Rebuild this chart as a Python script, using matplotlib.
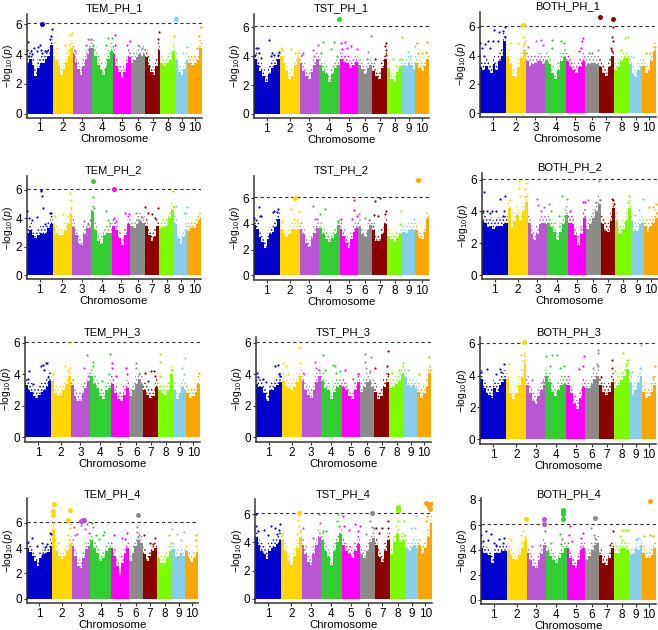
import matplotlib
matplotlib.use('Agg')
import matplotlib.pyplot as plt
import numpy as np

plt.rcParams['font.family'] = ['Liberation Sans', 'DejaVu Sans']
plt.rcParams['mathtext.fontset'] = 'custom'
plt.rcParams['mathtext.rm'] = 'Liberation Sans'
plt.rcParams['mathtext.it'] = 'Liberation Sans:italic'
plt.rcParams['hatch.linewidth'] = 0.7

W, H = 658, 630

# chromosome lengths (Mb, read from the widths of the coloured blocks)
chrom_len = [304, 234, 222, 246, 214, 168, 172, 179, 152, 160]
chrom_col = ['#0000CD', '#FFD700', '#BA55D3', '#32CD32', '#FF00FF',
             '#8B8B8B', '#8B0000', '#7CFC00', '#87CEEB', '#FFA500']
threshold = 6.07

# height of the solid mass of points along each chromosome
env_tem1 = [[3.4,3.7,3.3,2.5,3.1,3.4,3.4,3.7,3.9,4.6],[3.9,3.6,3.2,2.6,3.0,3.5,3.9,4.4],[4.0,3.5,3.0,2.6,3.2,3.7,4.0,4.4],
            [4.4,3.9,3.3,2.9,2.6,3.1,3.7,4.2],[4.0,3.2,2.8,2.4,2.8,3.4,3.8],[3.4,3.6,3.8,4.0,3.9,4.0],[3.8,3.3,2.8,2.6,3.2,4.3],
            [3.4,3.2,3.4,3.6,4.2],[3.6,2.8,2.6,3.0,3.6],[3.4,3.3,3.4,3.6,4.4]]
env_tst1 = [[3.8,3.4,3.0,2.6,2.2,2.8,3.2,3.4,3.8],[4.0,3.5,3.0,2.4,2.6,3.4,3.9],[3.5,3.0,2.6,2.4,2.9,3.4,3.8],
            [3.4,3.0,2.8,2.2,2.8,3.2,3.4],[3.8,3.6,3.5,3.2,3.4,3.6],[3.4,3.1,2.8,3.2,3.4],[3.0,2.6,2.4,3.2,3.8],
            [3.2,2.4,2.2,2.9,3.3],[3.4,3.3,3.6,3.4,3.1],[3.5,3.2,3.0,3.3,3.8]]
env_both1 = [[3.2,3.0,3.3,3.0,2.8,3.4,3.0,3.6,4.0,5.0],[4.0,3.4,2.6,2.5,3.2,3.8,4.4],[3.6,3.3,3.4,3.5,3.6,3.6,3.4],
             [3.7,3.4,2.8,2.4,3.0,3.6,3.9],[3.6,3.2,3.0,2.8,3.2,3.6],[3.3,3.4,3.5,3.5,3.4],[3.2,2.8,2.6,3.2,4.0],
             [3.0,3.2,3.6,3.8,3.8],[3.4,2.7,2.5,3.0,3.3],[3.3,2.8,2.9,3.6,4.3]]
env_tem2 = [[3.0,3.2,2.8,2.6,2.8,3.0,2.9,3.0,3.3,3.6],[3.6,3.0,2.8,2.8,3.1,3.6,4.3],[3.4,2.8,2.2,2.1,2.9,3.3,3.3],
            [4.5,3.2,2.4,2.2,2.8,3.0,3.0],[3.5,3.2,2.6,2.1,2.8,3.6],[3.5,3.3,3.6,3.8,3.7],[3.5,2.8,2.4,2.7,3.5],
            [3.3,3.4,3.5,4.0,4.6],[3.6,2.6,2.2,2.7,3.2],[3.1,3.3,3.3,3.6,3.9]]
env_tst2 = [[3.9,3.6,3.0,2.6,2.1,2.8,3.2,3.4,3.8,4.4],[3.6,3.2,3.0,3.2,3.6,3.5,3.6],[3.6,3.2,2.5,2.2,2.9,3.3,3.7],
            [3.7,3.2,2.8,2.6,2.9,3.2,3.9],[3.6,3.1,2.5,2.1,2.8,3.4,3.7],[3.8,3.2,3.0,3.5,3.9],[3.5,2.7,2.7,3.2,4.0],
            [3.1,2.8,2.6,2.9,3.2],[3.4,3.3,3.5,3.6,3.5],[3.5,2.9,2.8,3.4,4.4]]
env_both2 = [[3.4,3.3,3.0,3.1,2.9,3.0,3.1,3.1,3.2,3.3],[4.2,3.0,3.4,3.8,3.4,4.0,4.6],[3.3,2.6,2.2,2.6,3.2,3.3,3.2],
             [3.3,3.0,2.7,2.2,2.7,3.2,3.8],[3.3,3.2,2.5,1.9,2.6,3.6],[2.9,3.2,3.6,4.0,4.5],[3.2,2.8,2.7,3.4,4.2],
             [3.4,2.6,2.9,3.4,4.2],[3.4,2.8,2.8,3.2,3.3],[3.1,2.7,3.0,3.3,3.6]]
env_tem3 = [[3.3,3.0,2.9,2.6,2.5,2.7,2.9,3.0,3.2,3.6],[3.6,2.8,2.6,2.7,3.0,3.4,3.9],[3.3,2.6,2.3,2.3,2.8,3.1,3.6],
            [3.9,3.4,3.1,2.6,2.4,3.0,3.1],[3.4,2.8,2.4,2.3,2.7,3.1],[2.6,3.0,3.4,3.7,3.4],[3.0,2.7,2.5,2.6,3.2],
            [3.0,2.8,2.7,3.0,4.0],[3.0,2.4,2.8,3.2,3.0],[2.8,2.5,2.6,2.9,3.4]]
env_tst3 = [[3.4,3.2,3.2,2.8,2.3,3.0,3.0,3.2,3.3,3.5],[3.6,3.3,3.1,3.0,3.2,3.5,3.9],[3.6,3.0,2.7,2.5,3.0,3.5,3.9],
            [3.6,3.1,3.0,2.4,2.9,3.2,3.3],[3.2,3.0,2.6,2.4,3.0,3.5],[2.9,3.2,3.5,3.6,3.2],[2.9,2.4,2.6,3.2,3.5],
            [3.1,3.2,3.4,3.6,4.0],[3.8,3.3,3.2,3.3,3.1],[2.9,2.5,2.8,3.2,4.1]]
env_both3 = [[3.8,3.2,2.9,2.8,2.6,3.2,3.0,3.4,3.6,3.8],[3.8,2.9,2.5,2.9,3.4,3.9,4.8],[3.4,2.9,2.4,2.2,2.7,3.1,3.4],
             [4.0,3.6,3.0,2.7,3.1,3.4,3.5],[3.4,2.9,2.2,1.9,2.6,3.3],[3.2,3.2,3.5,3.8,4.0],[3.4,3.0,2.8,3.0,3.6],
             [3.2,3.4,3.7,4.0,4.4],[3.6,2.8,3.1,3.6,4.0],[3.0,2.6,2.7,3.0,3.4]]
env_tem4 = [[4.0,3.7,3.4,3.0,2.6,3.2,3.5,3.6,3.7,4.2],[5.5,3.8,3.4,3.1,3.4,3.8,4.4],[4.2,3.4,2.6,2.4,3.2,3.9,4.2],
            [4.6,4.0,3.6,3.0,3.2,3.8,4.0],[4.0,3.4,2.6,1.9,2.8,3.6,4.0],[3.0,3.6,4.2,4.6,4.4],[3.5,3.0,3.4,3.8,4.0],
            [3.2,2.8,2.8,3.2,3.8],[3.9,3.3,3.4,3.6,3.4],[3.8,3.2,2.9,3.2,3.7]]
env_tst4 = [[4.4,3.8,3.4,3.2,2.8,3.4,3.6,3.7,3.9,4.2],[4.2,3.4,2.7,2.4,3.0,3.6,4.4],[3.8,3.2,2.6,2.4,3.2,3.8,4.4],
            [4.2,3.4,3.0,2.4,3.4,4.0,4.6],[3.8,3.4,3.2,2.9,3.4,3.9],[3.2,2.9,3.4,4.0,4.3],[3.8,3.0,2.6,3.4,4.2],
            [3.2,4.0,4.6,4.0,4.2],[3.6,3.4,3.7,3.8,3.6],[3.8,3.2,3.6,4.4,5.4]]
env_both4 = [[4.2,3.8,3.7,3.6,3.0,3.8,3.8,3.8,3.9,3.9],[4.0,3.6,3.3,3.2,3.6,4.2,4.8],[3.8,3.2,2.7,2.6,3.2,3.7,4.4],
             [3.9,3.5,3.2,3.0,3.4,3.8,4.2],[4.2,3.4,2.8,2.6,3.2,4.0,4.2],[3.2,3.5,4.0,4.4,4.6],[3.6,3.0,2.8,3.4,4.2],
             [3.8,3.8,4.2,4.2,4.0],[3.6,3.7,4.2,4.0,4.4],[3.8,3.4,3.4,3.6,4.2]]

# loose SNPs above the mass: per chromosome, (fraction along chromosome, -log10 p)
top_tem1 = [[(.03,4.3),(.05,4.8),(.1,3.9),(.15,4.2),(.2,4.0),(.3,4.4),(.4,4.2),(.45,4.5),(.5,4.6),(.55,4.3),(.6,4.1),(.7,4.2),(.8,4.2),(.9,5.0),(.95,5.2),(.97,5.7)],
            [(.1,4.8),(.2,4.4),(.6,4.6),(.8,4.7),(.85,5.3),(.95,5.4)],[(.1,4.2),(.7,4.6),(.8,5.0),(.95,5.0)],
            [(.05,4.6),(.7,4.6),(.8,5.1),(.95,5.1)],[(.1,4.6),(.15,5.3),(.8,4.6),(.95,4.9)],[(.5,4.6),(.8,4.4)],
            [(.9,5.5),(.85,5.0)],[(.9,5.2)],[(.9,4.5),(.6,4.1)],[(.9,5.8),(.8,5.2),(.6,4.4)]]
top_tst1 = [[(.05,4.1),(.1,4.6),(.15,4.6),(.2,4.2),(.28,3.9),(.6,5.1),(.65,4.0),(.7,4.2),(.8,4.1),(.92,4.1),(.97,4.3)],
            [(.05,4.6),(.1,4.4),(.55,4.5),(.75,4.2),(.9,4.2)],[(.1,4.1),(.2,4.2),(.7,4.4),(.75,4.0),(.95,4.8)],
            [(.1,4.2),(.2,5.0),(.6,4.5),(.75,5.0),(.85,4.0)],[(.05,4.9),(.1,4.5),(.3,5.0),(.4,4.6),(.6,4.7),(.95,4.5)],
            [(.7,4.3),(.9,5.4),(.6,3.8)],[(.9,4.9),(.85,4.7),(.9,4.4),(.95,4.1),(.2,3.8)],[(.4,3.8),(.9,3.8),(.98,5.3)],
            [(.4,4.3),(.6,4.0),(.95,4.7)],[(.1,4.9),(.2,4.2),(.5,4.2),(.85,5.0),(.8,4.3)]]
top_both1 = [[(.03,4.9),(.1,4.5),(.15,4.0),(.2,4.8),(.3,5.0),(.4,4.5),(.5,5.0),(.55,5.8),(.7,5.0),(.75,5.6),(.9,5.7),(.95,5.3),(.97,6.0)],
             [(.2,4.9),(.6,4.9),(.85,5.3),(.9,4.8),(.95,5.0)],[(.1,4.6),(.55,5.0),(.8,5.05),(.9,4.7)],
             [(.35,5.1),(.35,4.5),(.75,5.0),(.9,4.9)],[(.7,4.3),(.8,4.5),(.85,5.0),(.9,5.2)],[(.3,4.2),(.5,4.2),(.95,4.4)],
             [(.8,4.5),(.85,5.3),(.9,4.3),(.92,5.95),(.95,5.0)],[(.5,4.4),(.75,5.2),(.9,5.3)],[(.3,3.9)],[(.3,4.2),(.6,4.2),(.9,4.6)]]
top_tem2 = [[(.02,4.5),(.1,4.0),(.2,3.9),(.4,4.1),(.55,5.9),(.57,6.0),(.58,5.6),(.65,4.7),(.7,3.6),(.9,4.4),(.95,4.4)],
            [(.1,4.2),(.55,4.3),(.9,5.8),(.93,5.3),(.95,4.7)],[(.6,3.8),(.85,3.6),(.95,3.9)],
            [(.1,5.5),(.15,4.7),(.7,4.5),(.8,3.9),(.9,3.7)],[(.1,4.0),(.2,3.8),(.7,4.4),(.9,4.3)],[(.4,4.4),(.5,3.9),(.8,4.1)],
            [(.0,4.8),(.2,4.4),(.5,4.3),(.7,4.0),(.9,4.7)],[(.9,5.9),(.95,4.8)],[(.1,4.9),(.7,4.4),(.9,4.4),(.95,4.8)],[(.95,4.0)]]
top_tst2 = [[(.03,4.5),(.1,4.3),(.2,5.3),(.25,4.6),(.3,4.6),(.75,4.9),(.8,5.0),(.9,4.9),(.95,5.2)],
            [(.1,4.2),(.55,5.2),(.7,4.4),(.85,4.3),(.95,5.0)],[(.7,5.4),(.8,4.4),(.9,4.4)],[(.05,4.8),(.3,5.2),(.9,4.2)],
            [(.05,4.4),(.7,4.4),(.8,5.1),(.8,5.9),(.95,4.6)],[(.1,4.8),(.5,4.5),(.8,4.3)],
            [(.1,4.7),(.2,5.8),(.4,4.6),(.5,6.0),(.85,4.8),(.9,5.0)],[(.85,4.0),(.9,5.0)],[(.9,4.4)],[(.95,4.5)]]
top_both2 = [[(.05,4.0),(.1,5.2),(.2,4.0),(.3,3.9),(.4,4.0),(.55,4.0),(.7,4.8),(.8,3.7),(.85,4.0),(.9,5.0)],
             [(.1,4.7),(.55,5.9),(.57,5.5),(.6,5.0),(.85,4.9),(.88,5.4),(.9,5.8),(.95,5.0)],[(.5,4.8),(.55,4.4),(.7,4.0),(.85,4.3)],
             [(.1,4.5),(.2,4.0),(.6,3.7),(.7,5.0),(.95,4.8)],[(.1,4.0),(.8,4.6),(.95,4.6)],[(.1,4.7),(.7,4.6),(.9,5.9),(.95,4.7)],
             [(.75,4.8),(.85,4.7),(.9,4.5)],[(.85,4.6),(.9,5.0)],[(.3,3.8),(.6,4.1),(.95,4.8)],[(.4,4.3),(.7,4.3),(.9,4.5),(.95,3.9)]]
top_tem3 = [[(.1,3.7),(.15,4.2),(.3,3.4),(.6,4.5),(.7,4.6),(.75,4.3),(.8,4.7),(.85,4.7),(.9,3.8)],
            [(.1,4.0),(.7,4.5),(.85,4.2),(.9,6.0),(.95,4.4)],[(.7,4.4),(.85,5.2),(.95,3.9)],
            [(.15,4.8),(.15,4.5),(.6,3.6),(.9,4.0),(.95,5.3)],[(.05,4.7),(.05,4.4),(.3,3.9),(.85,4.4),(.9,4.0)],[(.5,4.7),(.5,4.4),(.7,4.0)],
            [(.1,4.1),(.3,3.6),(.5,4.2),(.7,4.2),(.8,3.9)],[(.1,5.3),(.15,4.8),(.15,3.9),(.9,4.3)],[(.7,4.4),(.8,4.0),(.9,5.0)],[(.9,4.1)]]
top_tst3 = [[(.05,4.1),(.1,3.8),(.3,3.7),(.4,3.5),(.75,4.5),(.85,4.6),(.9,4.0),(.95,3.9)],
            [(.05,4.7),(.2,4.5),(.3,4.0),(.85,5.7),(.9,4.7)],[(.1,4.0),(.7,4.8),(.75,4.4),(.9,4.3)],
            [(.1,5.2),(.2,4.3),(.6,4.6),(.7,4.5),(.75,4.1),(.9,4.2)],[(.2,4.3),(.6,3.7),(.9,4.0)],
            [(.35,5.3),(.35,4.8),(.4,4.4),(.7,4.2),(.8,5.1)],[(.05,4.4),(.85,4.5),(.9,4.0),(.95,5.5)],[(.2,4.1),(.65,4.3),(.9,4.7)],
            [(.3,4.3)],[(.1,4.0),(.85,5.1),(.95,4.3)]]
top_both3 = [[(.02,4.2),(.25,4.4),(.6,4.1),(.75,4.4),(.8,4.2),(.9,4.7)],[(.15,4.7),(.75,5.3),(.85,4.9),(.9,5.4),(.95,5.0)],
             [(.3,3.7),(.85,3.6)],[(.05,5.2),(.2,4.6),(.3,5.3),(.55,5.3),(.7,4.5),(.9,4.6)],[(.7,4.4),(.9,4.6),(.95,5.2)],
             [(.6,4.5),(.85,4.7),(.93,5.4),(.95,5.6),(.95,4.6)],[(.1,3.9),(.9,5.0),(.9,4.5)],[(.1,4.3),(.6,5.4),(.8,4.7),(.9,5.0)],
             [(.2,4.2),(.8,4.5),(.9,5.9)],[(.8,3.9),(.9,4.6)]]
top_tem4 = [[(.05,4.5),(.2,4.8),(.4,4.2),(.6,4.4),(.7,4.1),(.8,4.3),(.9,5.2),(.95,5.1)],
            [(.05,6.0),(.1,5.5),(.15,4.6),(.3,4.4),(.8,5.0),(.85,4.6),(.9,5.6),(.95,5.9)],
            [(.1,5.7),(.2,5.0),(.3,5.1),(.5,5.8),(.7,5.5),(.8,5.9),(.95,5.2)],[(.1,6.0),(.15,5.7),(.3,5.0),(.4,4.7),(.6,5.0),(.65,5.3)],
            [(.2,5.0),(.6,4.8),(.8,4.7),(.9,5.2)],[(.6,5.7),(.6,5.3),(.65,4.9),(.75,5.0)],[(.05,5.0),(.5,4.4),(.7,4.3),(.85,4.8)],
            [(.8,5.0),(.9,4.4)],[(.0,5.5),(.4,5.1),(.7,4.6),(.9,5.3)],[(.85,5.0),(.85,4.6)]]
top_tst4 = [[(.03,6.0),(.05,5.2),(.1,4.8),(.35,4.9),(.5,4.5),(.6,5.2),(.75,5.0),(.85,4.6),(.9,4.9),(.95,5.3)],
            [(.05,4.6),(.8,4.6),(.85,5.6),(.9,5.2),(.95,4.8)],[(.1,5.0),(.6,4.3),(.9,6.0),(.95,5.4)],
            [(.1,4.8),(.25,4.8),(.75,5.5),(.8,6.0),(.85,5.2)],[(.05,5.9),(.1,5.2),(.4,4.9),(.7,5.3),(.85,4.8),(.95,5.2)],
            [(.4,4.6),(.65,5.5),(.8,5.1),(.9,5.0)],[(.1,5.0),(.3,4.7),(.5,5.0),(.85,5.0),(.9,5.5)],[(.55,5.5),(.9,5.5),(.95,4.5)],
            [(.4,5.0),(.7,5.0),(.8,5.9)],[(.55,5.5),(.6,5.9)]]
top_both4 = [[(.03,5.2),(.1,4.7),(.2,5.5),(.3,4.8),(.4,5.3),(.5,4.6),(.6,4.4),(.7,4.9),(.85,4.6),(.9,5.0)],
             [(.1,5.0),(.2,4.8),(.7,5.2),(.75,4.6),(.8,5.5),(.9,5.0)],[(.3,4.3),(.7,4.4),(.9,6.0),(.95,5.5)],[(.25,4.6),(.7,5.3),(.75,4.5),(.8,4.9)],
             [(.15,5.2),(.2,5.9),(.3,4.7),(.8,5.0),(.9,5.4)],[(.45,5.8),(.6,5.2),(.7,5.0)],[(.7,4.4),(.9,5.5)],
             [(.4,5.1),(.5,5.6),(.55,4.8),(.7,5.6),(.9,5.6)],[(.5,4.8),(.6,4.9),(.7,5.0)],[(.1,5.1),(.55,5.2),(.75,5.1)]]

# significant SNPs: (chromosome, fraction along chromosome, -log10 p)
hit_tem1 = [(1,.58,6.05),(9,.03,6.35)]
hit_tst1 = [(4,.97,6.6)]
hit_both1 = [(2,.85,6.1),(7,.1,6.7),(7,.92,6.55)]
hit_tem2 = [(4,.1,6.65),(5,.11,6.05)]
hit_tst2 = [(2,.78,6.05),(10,.16,7.4)]
hit_both2 = []
hit_tem3 = []
hit_tst3 = []
hit_both3 = [(2,.88,6.1)]
hit_tem4 = [(2,.08,7.5),(2,.02,6.9),(2,.02,6.6),(2,.83,6.25),(2,.93,7.0),(3,.48,6.1),(3,.55,6.15),(3,.6,6.25),(3,.68,6.2),(6,.64,6.6)]
hit_tst4 = [(2,.87,6.1),(6,.77,6.1),(8,.51,6.3),(8,.51,6.4),(8,.51,6.5),(10,.57,6.8),(10,.7,6.75),(10,.75,6.5),(10,.8,6.4),(10,.9,6.7)]
hit_both4 = [(2,.98,6.5),(3,.93,6.5),(3,.93,6.1),(4,.82,7.2),(4,.82,7.05),(4,.82,6.9),(4,.82,6.5),(6,.69,6.6),(10,.58,7.9)]

titles = ['TEM_PH_1', 'TST_PH_1', 'BOTH_PH_1', 'TEM_PH_2', 'TST_PH_2', 'BOTH_PH_2',
          'TEM_PH_3', 'TST_PH_3', 'BOTH_PH_3', 'TEM_PH_4', 'TST_PH_4', 'BOTH_PH_4']
envs = [env_tem1, env_tst1, env_both1, env_tem2, env_tst2, env_both2,
        env_tem3, env_tst3, env_both3, env_tem4, env_tst4, env_both4]
tops = [top_tem1, top_tst1, top_both1, top_tem2, top_tst2, top_both2,
        top_tem3, top_tst3, top_both3, top_tem4, top_tst4, top_both4]
hits = [hit_tem1, hit_tst1, hit_both1, hit_tem2, hit_tst2, hit_both2,
        hit_tem3, hit_tst3, hit_both3, hit_tem4, hit_tst4, hit_both4]

# panel frames in pixels: left, right, y of 0, y of 6, top of spine, bottom spine, title baseline
frames = [(26.7, 202, 113.7, 24.3, 14, 117.5, 11.5), (253.7, 429, 114, 27.3, 14, 117.7, 11.5), (479.7, 656, 113.3, 26.7, 11.7, 117.3, 9),
          (26.7, 201, 275.3, 190, 176, 279.3, 172.7), (253.7, 429, 275.3, 198.3, 176, 280, 172.7), (481.7, 657.5, 275, 179.7, 173.3, 279.3, 170),
          (25, 200, 437.3, 342.7, 337.3, 441.7, 334.7), (255.7, 431, 437.3, 342.7, 337.3, 441.7, 334.7), (480.3, 656, 439.3, 343.7, 337.3, 444, 335),
          (26.7, 198.3, 598.7, 522.7, 498.3, 603, 496.7), (255, 432.3, 598.7, 514.3, 499, 603, 496.7), (480.7, 656, 600, 525, 498.3, 604, 496.7)]

fringe = 0.55  # thin dotted band where the point cloud breaks up above the mass

fig = plt.figure(figsize=(W / 100, H / 100), dpi=100)
starts = np.concatenate([[0], np.cumsum(chrom_len)[:-1]])
total = sum(chrom_len)

for i, (left, right, y0, y6, ytop, ybot, ytitle) in enumerate(frames):
    ax = fig.add_axes([left / W, 1 - ybot / H, (right - left) / W, (ybot - ytop) / H])
    unit = (y0 - y6) / 6
    ax.set_xlim(0, total)
    ax.set_ylim(-(ybot - y0) / unit, (y0 - ytop) / unit)

    for c in range(10):
        # solid mass
        heights = np.array(envs[i][c])
        edges = np.linspace(0, chrom_len[c], len(heights) + 1)
        ax.bar(starts[c] + edges[:-1], heights, width=np.diff(edges), align='edge',
               color=chrom_col[c], linewidth=0)
        ax.bar(starts[c] + edges[:-1], fringe, bottom=heights, width=np.diff(edges), align='edge',
               facecolor='none', edgecolor=chrom_col[c], hatch='.....', linewidth=0)
        # loose points
        if tops[i][c]:
            pts = np.array(tops[i][c])
            ax.scatter(starts[c] + pts[:, 0] * chrom_len[c], pts[:, 1], s=2.5,
                       color=chrom_col[c], linewidths=0, zorder=3)

    for c, frac, val in hits[i]:
        ax.scatter(starts[c - 1] + frac * chrom_len[c - 1], val, s=13,
                   color=chrom_col[c - 1], linewidths=0, zorder=4)

    ax.axhline(threshold, color='#333333', lw=0.8, ls=(0, (3, 2.5)), zorder=2)

    ax.spines['top'].set_visible(False)
    ax.spines['right'].set_visible(False)
    for s in ['left', 'bottom']:
        ax.spines[s].set_linewidth(1.1)
        ax.spines[s].set_color('#333333')

    ax.set_xticks(starts + np.array(chrom_len) / 2)
    ax.set_xticklabels([str(n) for n in range(1, 11)])
    ax.set_yticks([0, 2, 4, 6, 8] if i == 11 else [0, 2, 4, 6])
    ax.tick_params(axis='both', length=2, width=0.8, color='#333333', labelsize=8.5, pad=1.5)
    ax.set_xlabel('Chromosome', fontsize=8.2, labelpad=0)
    fig.text((left - 18.5) / W, 1 - (ytop + ybot) / 2 / H, r'$-\log_{10}(\mathit{p})$',
             rotation=90, ha='center', va='center', fontsize=7.5)
    fig.text((left + right) / 2 / W, 1 - ytitle / H, titles[i],
             ha='center', va='baseline', fontsize=8)

fig.savefig('out.png', dpi=100)
